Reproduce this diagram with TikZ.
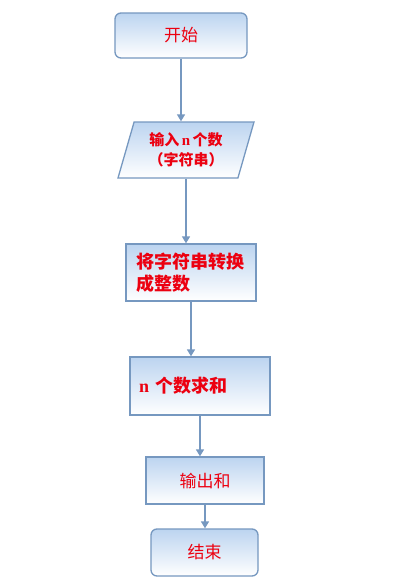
\documentclass[tikz,border=0pt]{standalone}
\usepackage{fontspec}
\setmainfont{Noto Sans CJK SC}
\newfontfamily\latinbold{Liberation Serif}
\usetikzlibrary{positioning}
\usetikzlibrary{shapes.geometric}
\usetikzlibrary{arrows.meta}
\usepackage{xcolor}
\definecolor{flowline}{RGB}{118,152,192}
\definecolor{flowfill}{RGB}{188,212,240}
\definecolor{flowtext}{RGB}{236,0,16}
\tikzset{
    box/.style={draw=flowline, line width=1.3pt, top color=flowfill, bottom color=white,
        text=flowtext, inner sep=0pt, font=\fontsize{17}{21}\selectfont},
    roundbox/.style={box, rounded corners=6pt},
    iobox/.style={box, trapezium, trapezium left angle=65, trapezium right angle=115,
        trapezium stretches body, align=center, font=\fontsize{15}{20}\selectfont\bfseries},
    flow/.style={draw=flowline, line width=1.4pt, -{Triangle[width=8pt,length=7pt]}}
}

\begin{document}
\begin{tikzpicture}[x=1pt, y=-1pt]
    \useasboundingbox[fill=white] (0,0) rectangle (409,587);
    % Start and input
    \node[roundbox, minimum width=132pt, minimum height=45pt] (start) at (181,35.5) {开始};
    \node[iobox, minimum width=136pt, minimum height=56pt] (input) at (186,150)
        {输入\,{\latinbold n}\,个数\\（字符串）};
    % Processing steps
    \node[box, minimum width=130pt, minimum height=57pt, text width=110pt, align=left,
        font=\fontsize{18}{22}\selectfont\bfseries] (convert) at (191,272.5)
        {将字符串转换\\成整数};
    \node[box, minimum width=140pt, minimum height=58pt, text width=122pt, align=left,
        font=\fontsize{18}{21}\selectfont\bfseries] (sum) at (200,386)
        {{\latinbold n} 个数求和};
    % Output and end
    \node[box, minimum width=118pt, minimum height=47pt] (output) at (205,480.5) {输出和};
    \node[roundbox, minimum width=107pt, minimum height=47pt] (end) at (204.5,552.5) {结束};
    % Connectors
    \draw[flow] (start.south) -- (start.south |- input.north);
    \draw[flow] (input.south) -- (input.south |- convert.north);
    \draw[flow] (convert.south) -- (convert.south |- sum.north);
    \draw[flow] (sum.south) -- (sum.south |- output.north);
    \draw[flow] (output.south) -- (output.south |- end.north);
\end{tikzpicture}
\end{document}
